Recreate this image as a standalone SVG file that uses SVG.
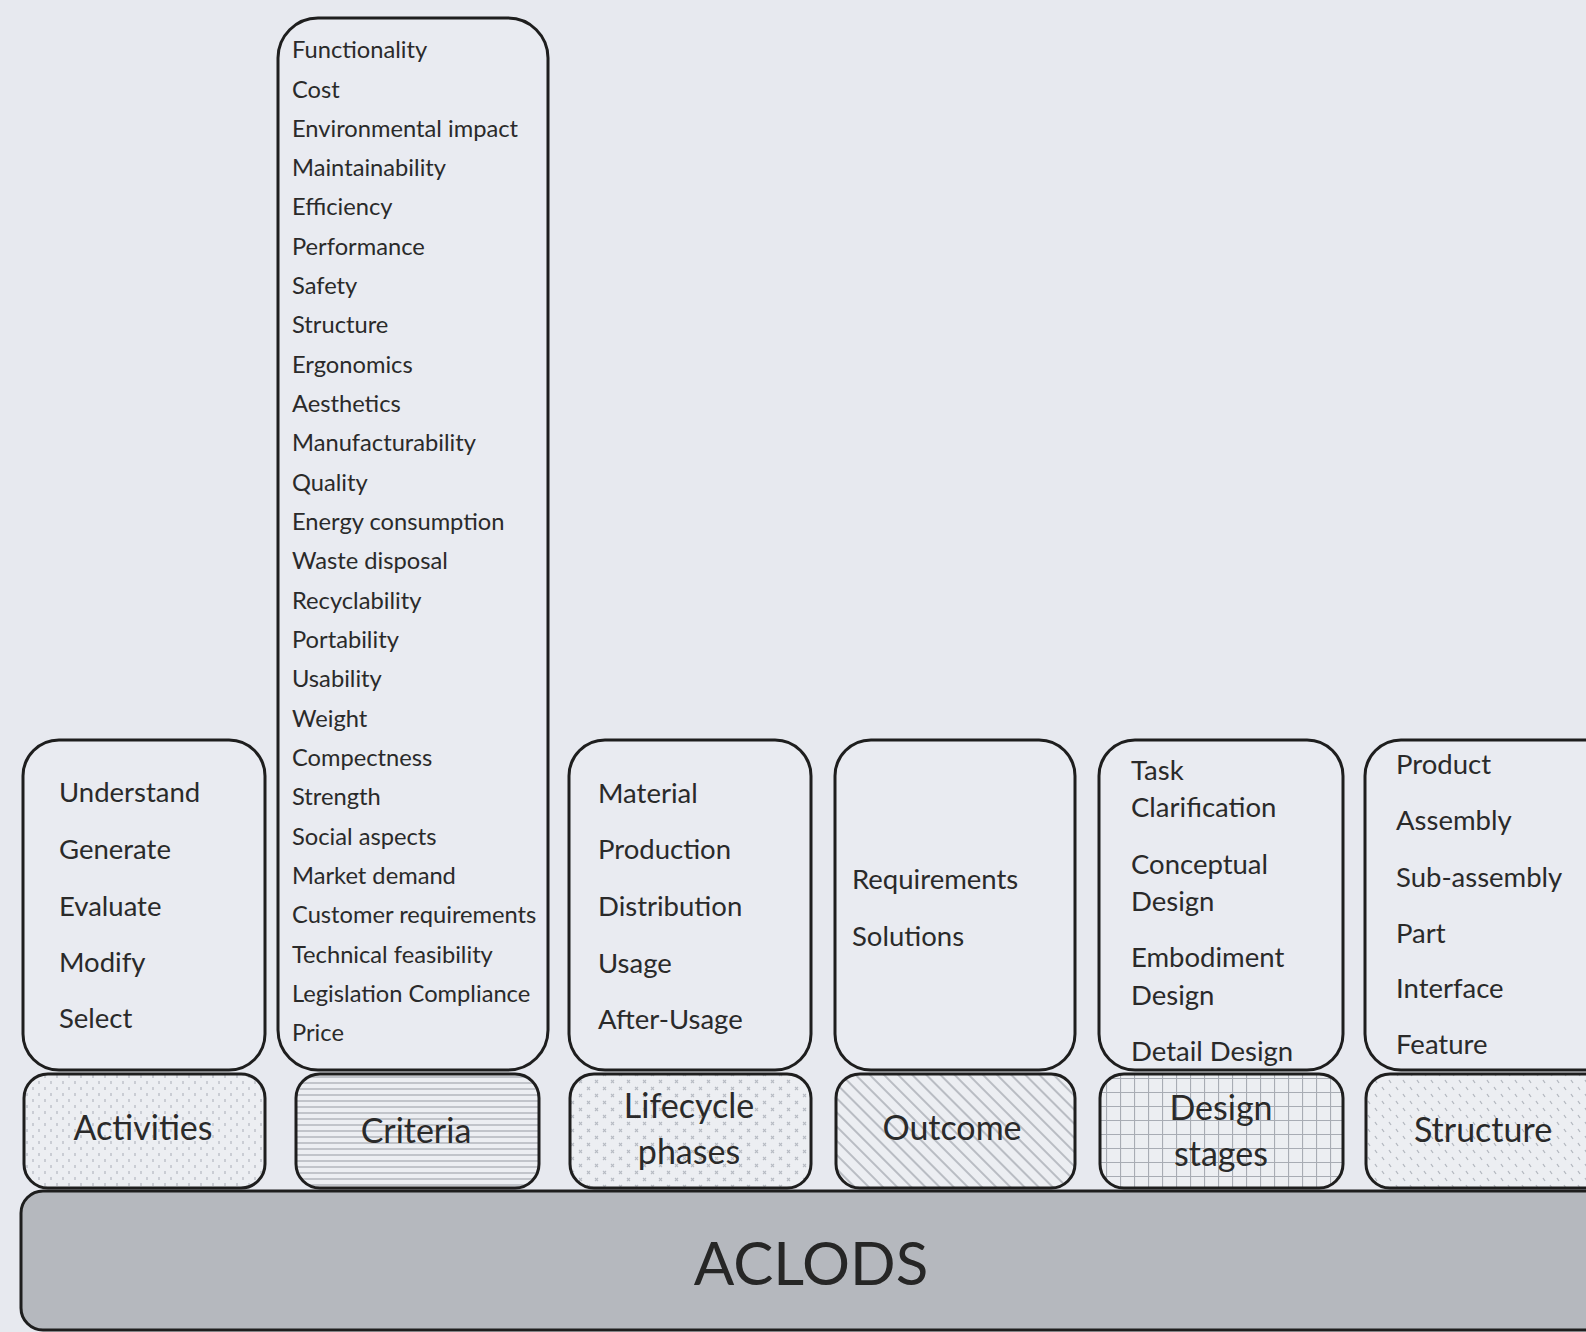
<svg xmlns="http://www.w3.org/2000/svg" width="1586" height="1332" viewBox="0 0 1586 1332">
<style>
.box{fill:#e9ebf1;stroke:#1e1e1e;stroke-width:3}
.lbl{stroke:#1e1e1e;stroke-width:3}
.t{font-family:Lato,"Liberation Sans",sans-serif;fill:#2a2a2a;font-size:27.5px}
.s{font-family:Lato,"Liberation Sans",sans-serif;fill:#2a2a2a;font-size:23.7px}
.c{font-family:Lato,"Liberation Sans",sans-serif;fill:#2a2a2a;font-size:34px;text-anchor:middle}
</style>
<defs>
<pattern id="pAct" width="12" height="12" patternUnits="userSpaceOnUse">
<rect width="12" height="12" fill="#eceef2"/>
<path d="M3 1v3M9 7v3" stroke="#b8bcc4" stroke-width="1.3"/>
</pattern>
<pattern id="pCri" width="8" height="6" patternUnits="userSpaceOnUse">
<rect width="8" height="6" fill="#eceef2"/>
<path d="M0 3h8" stroke="#a4a8b0" stroke-width="1.2"/>
</pattern>
<pattern id="pLif" width="16" height="14" patternUnits="userSpaceOnUse">
<rect width="16" height="14" fill="#eceef2"/>
<path d="M3 2l3 3M6 2l-3 3M11 9l3 3M14 9l-3 3" stroke="#b8bcc4" stroke-width="1.1"/>
</pattern>
<pattern id="pOut" width="10" height="10" patternUnits="userSpaceOnUse" patternTransform="rotate(-45)">
<rect width="10" height="10" fill="#eceef2"/>
<path d="M5 0v10" stroke="#9ea2aa" stroke-width="1.3"/>
</pattern>
<pattern id="pDes" width="14" height="14" patternUnits="userSpaceOnUse">
<rect width="14" height="14" fill="#eceef2"/>
<path d="M0 0.5h14M0.5 0v14" stroke="#a8acb4" stroke-width="1.2"/>
</pattern>
<pattern id="pStr" width="14" height="14" patternUnits="userSpaceOnUse">
<rect width="14" height="14" fill="#eceef2"/>
<path d="M3 2l2 3M10 9l2 3" stroke="#b4b8c0" stroke-width="1.3"/>
</pattern>
</defs>
<rect width="1586" height="1332" fill="#e7e9ef"/>

<g id="aclods">
<rect x="21" y="1191" width="1600" height="139" rx="22" fill="#b5b8be" stroke="#1e1e1e" stroke-width="3"/>
<text x="811" y="1285" font-family="Lato,'Liberation Sans',sans-serif" font-size="60" fill="#262626" text-anchor="middle">ACLODS</text>
</g>

<g id="activities">
<rect class="box" x="23" y="740" width="242" height="330" rx="36"/>
<text class="t" x="59" y="802">Understand</text>
<text class="t" x="59" y="859">Generate</text>
<text class="t" x="59" y="916">Evaluate</text>
<text class="t" x="59" y="972">Modify</text>
<text class="t" x="59" y="1028">Select</text>
</g>
<g id="activities-label">
<rect class="lbl" x="24" y="1074" width="241" height="114" rx="24" fill="url(#pAct)"/>
<text class="c" x="143" y="1140">Activities</text>
</g>

<g id="criteria">
<rect class="box" x="278" y="18" width="270" height="1052" rx="40"/>
<g class="s">
<text x="292" y="58">Functionality</text>
<text x="292" y="98">Cost</text>
<text x="292" y="137">Environmental impact</text>
<text x="292" y="176">Maintainability</text>
<text x="292" y="215">Efficiency</text>
<text x="292" y="255">Performance</text>
<text x="292" y="294">Safety</text>
<text x="292" y="333">Structure</text>
<text x="292" y="373">Ergonomics</text>
<text x="292" y="412">Aesthetics</text>
<text x="292" y="451">Manufacturability</text>
<text x="292" y="491">Quality</text>
<text x="292" y="530">Energy consumption</text>
<text x="292" y="569">Waste disposal</text>
<text x="292" y="609">Recyclability</text>
<text x="292" y="648">Portability</text>
<text x="292" y="687">Usability</text>
<text x="292" y="727">Weight</text>
<text x="292" y="766">Compectness</text>
<text x="292" y="805">Strength</text>
<text x="292" y="845">Social aspects</text>
<text x="292" y="884">Market demand</text>
<text x="292" y="923">Customer requirements</text>
<text x="292" y="963">Technical feasibility</text>
<text x="292" y="1002">Legislation Compliance</text>
<text x="292" y="1041">Price</text>
</g>
</g>
<g id="criteria-label">
<rect class="lbl" x="296" y="1074" width="243" height="114" rx="24" fill="url(#pCri)"/>
<text class="c" x="416" y="1143">Criteria</text>
</g>

<g id="lifecycle">
<rect class="box" x="569" y="740" width="242" height="330" rx="36"/>
<text class="t" x="598" y="803">Material</text>
<text class="t" x="598" y="859">Production</text>
<text class="t" x="598" y="916">Distribution</text>
<text class="t" x="598" y="973">Usage</text>
<text class="t" x="598" y="1029">After-Usage</text>
</g>
<g id="lifecycle-label">
<rect class="lbl" x="570" y="1074" width="241" height="114" rx="24" fill="url(#pLif)"/>
<text class="c" x="689" y="1118">Lifecycle</text>
<text class="c" x="689" y="1164">phases</text>
</g>

<g id="outcome">
<rect class="box" x="835" y="740" width="240" height="330" rx="36"/>
<text class="t" x="852" y="889">Requirements</text>
<text class="t" x="852" y="946">Solutions</text>
</g>
<g id="outcome-label">
<rect class="lbl" x="836" y="1074" width="239" height="114" rx="24" fill="url(#pOut)"/>
<text class="c" x="952" y="1140">Outcome</text>
</g>

<g id="design">
<rect class="box" x="1099" y="740" width="244" height="330" rx="36"/>
<text class="t" x="1131" y="780">Task</text>
<text class="t" x="1131" y="817">Clarification</text>
<text class="t" x="1131" y="874">Conceptual</text>
<text class="t" x="1131" y="911">Design</text>
<text class="t" x="1131" y="967">Embodiment</text>
<text class="t" x="1131" y="1005">Design</text>
<text class="t" x="1131" y="1061">Detail Design</text>
</g>
<g id="design-label">
<rect class="lbl" x="1100" y="1074" width="243" height="114" rx="24" fill="url(#pDes)"/>
<text class="c" x="1221" y="1120">Design</text>
<text class="c" x="1221" y="1166">stages</text>
</g>

<g id="structure">
<rect class="box" x="1365" y="740" width="260" height="330" rx="36"/>
<text class="t" x="1396" y="774">Product</text>
<text class="t" x="1396" y="830">Assembly</text>
<text class="t" x="1396" y="887">Sub-assembly</text>
<text class="t" x="1396" y="943">Part</text>
<text class="t" x="1396" y="998">Interface</text>
<text class="t" x="1396" y="1054">Feature</text>
</g>
<g id="structure-label">
<rect class="lbl" x="1366" y="1074" width="260" height="114" rx="24" fill="url(#pStr)"/>
<text class="c" x="1483" y="1142">Structure</text>
</g>

<g id="connectors"/>
</svg>
